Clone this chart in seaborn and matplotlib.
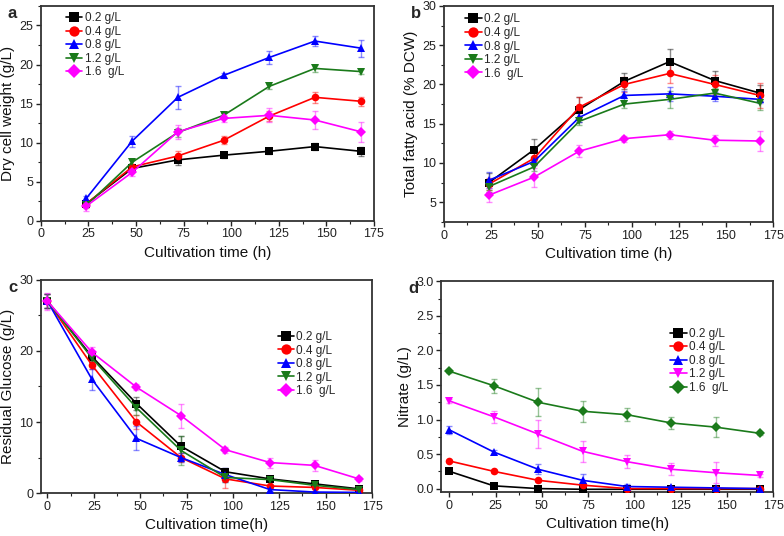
import numpy as np
import pandas as pd
import matplotlib
matplotlib.use("Agg")
import matplotlib.pyplot as plt
import seaborn as sns
from matplotlib.ticker import MultipleLocator, AutoMinorLocator

sns.set_theme(style="ticks")
plt.rcParams['font.family'] = ['Liberation Sans', 'DejaVu Sans']

labels = ["0.2 g/L", "0.4 g/L", "0.8 g/L", "1.2 g/L", "1.6  g/L"]

# Panel a: dry cell weight
time_a = [24, 48, 72, 96, 120, 144, 168]
dcw_02 = [2.2, 6.7, 7.8, 8.4, 8.9, 9.5, 8.9]
dcw_04 = [2.2, 6.9, 8.3, 10.3, 13.4, 15.8, 15.3]
dcw_08 = [2.9, 10.2, 15.8, 18.6, 20.9, 23.0, 22.1]
dcw_12 = [2.0, 7.5, 11.3, 13.5, 17.2, 19.5, 19.1]
dcw_16 = [1.9, 6.2, 11.4, 13.1, 13.5, 12.9, 11.4]
dcw_err_02 = [0.3, 0.3, 0.6, 0.3, 0.3, 0.5, 0.6]
dcw_err_04 = [0.3, 0.4, 0.6, 0.5, 0.6, 0.7, 0.6]
dcw_err_08 = [0.3, 0.7, 1.5, 0.3, 0.8, 0.6, 1.1]
dcw_err_12 = [0.3, 0.3, 0.6, 0.3, 0.3, 0.5, 0.3]
dcw_err_16 = [0.6, 0.4, 0.9, 0.5, 0.9, 1.1, 1.3]

# Panel b: total fatty acid
tfa_02 = [7.5, 11.7, 16.8, 20.4, 22.9, 20.5, 18.9]
tfa_04 = [7.3, 10.6, 17.1, 20.0, 21.4, 20.0, 18.6]
tfa_08 = [7.8, 10.2, 15.8, 18.6, 18.8, 18.5, 18.1]
tfa_12 = [7.0, 9.5, 15.3, 17.5, 18.1, 18.9, 17.6]
tfa_16 = [5.9, 8.2, 11.5, 13.1, 13.6, 12.9, 12.8]
tfa_err_02 = [1.2, 1.4, 1.6, 1.0, 1.6, 1.2, 1.0]
tfa_err_04 = [0.8, 0.8, 1.3, 1.0, 1.2, 1.2, 1.6]
tfa_err_08 = [1.0, 0.5, 0.6, 0.6, 0.9, 0.6, 0.5]
tfa_err_12 = [0.5, 0.5, 0.5, 0.5, 1.1, 0.6, 0.8]
tfa_err_16 = [0.9, 1.2, 0.8, 0.4, 0.5, 0.7, 1.3]

# Panel c: residual glucose
time_c = [0, 24, 48, 72, 96, 120, 144, 168]
glu_02 = [27.0, 19.2, 12.6, 6.6, 3.0, 2.0, 1.3, 0.6]
glu_04 = [27.0, 18.0, 10.0, 5.0, 2.0, 1.0, 0.8, 0.4]
glu_08 = [27.0, 16.0, 7.7, 5.0, 2.6, 0.5, 0.15, 0.1]
glu_12 = [27.0, 19.0, 12.0, 6.0, 2.2, 1.9, 1.1, 0.5]
glu_16 = [27.0, 19.8, 14.9, 10.9, 6.1, 4.3, 3.9, 2.0]
glu_err_02 = [1.0, 0.6, 0.9, 1.4, 0.5, 0.3, 0.3, 0.2]
glu_err_04 = [1.0, 0.5, 1.0, 0.6, 1.3, 0.2, 0.2, 0.1]
glu_err_08 = [1.0, 1.5, 1.7, 0.6, 1.0, 0.2, 0.1, 0.1]
glu_err_12 = [1.0, 0.6, 1.0, 2.0, 0.6, 0.3, 0.2, 0.1]
glu_err_16 = [1.2, 0.8, 0.4, 1.7, 0.4, 0.7, 0.8, 0.3]

# Panel d: nitrate
nit_02 = [0.25, 0.04, 0.0, -0.01, -0.01, -0.01, -0.01, -0.01]
nit_04 = [0.40, 0.25, 0.12, 0.05, 0.0, 0.0, 0.0, 0.0]
nit_08 = [0.85, 0.53, 0.28, 0.12, 0.03, 0.02, 0.01, 0.0]
nit_12 = [1.27, 1.04, 0.79, 0.54, 0.39, 0.28, 0.23, 0.19]
nit_16 = [1.70, 1.49, 1.25, 1.12, 1.07, 0.95, 0.89, 0.80]
nit_err_02 = [0.01, 0.01, 0.01, 0.01, 0.01, 0.01, 0.01, 0.01]
nit_err_04 = [0.02, 0.02, 0.02, 0.02, 0.01, 0.01, 0.01, 0.01]
nit_err_08 = [0.06, 0.03, 0.07, 0.09, 0.03, 0.02, 0.02, 0.01]
nit_err_12 = [0.03, 0.09, 0.20, 0.15, 0.09, 0.09, 0.15, 0.02]
nit_err_16 = [0.02, 0.10, 0.20, 0.15, 0.09, 0.09, 0.15, 0.02]

BLACK, RED, BLUE, GREEN, MAG = "#000000", "#ff0000", "#0000ff", "#1a7a1a", "#ff00ff"
style_abc = [(BLACK, "s"), (RED, "o"), (BLUE, "^"), (GREEN, "v"), (MAG, "D")]
style_d = [(BLACK, "s"), (RED, "o"), (BLUE, "^"), (MAG, "v"), (GREEN, "D")]

fig = plt.figure(figsize=(7.84, 5.36), dpi=100)
ax_a = fig.add_axes([0.052, 0.588, 0.425, 0.401])
ax_b = fig.add_axes([0.566, 0.586, 0.420, 0.403])
ax_c = fig.add_axes([0.052, 0.080, 0.4225, 0.398])
ax_d = fig.add_axes([0.563, 0.082, 0.423, 0.393])


def draw(ax, t, series, errs, styles, msize=5.5):
    for lab, y, e, (col, mk) in zip(labels, series, errs, styles):
        ax.errorbar(t, y, yerr=e, fmt="none", ecolor=col, alpha=0.45,
                    elinewidth=1.0, capsize=2.0, capthick=1.0, zorder=2)
        df = pd.DataFrame({"t": t, "y": y})
        sns.lineplot(data=df, x="t", y="y", ax=ax, color=col, marker=mk,
                     markersize=msize, markeredgewidth=0, linewidth=1.2,
                     label=lab, zorder=3)


draw(ax_a, time_a, [dcw_02, dcw_04, dcw_08, dcw_12, dcw_16],
     [dcw_err_02, dcw_err_04, dcw_err_08, dcw_err_12, dcw_err_16], style_abc)
draw(ax_b, time_a, [tfa_02, tfa_04, tfa_08, tfa_12, tfa_16],
     [tfa_err_02, tfa_err_04, tfa_err_08, tfa_err_12, tfa_err_16], style_abc)
draw(ax_c, time_c, [glu_02, glu_04, glu_08, glu_12, glu_16],
     [glu_err_02, glu_err_04, glu_err_08, glu_err_12, glu_err_16], style_abc)
draw(ax_d, time_c, [nit_02, nit_04, nit_08, nit_12, nit_16],
     [nit_err_02, nit_err_04, nit_err_08, nit_err_12, nit_err_16], style_d)

ax_a.set_xlim(0, 175); ax_a.set_ylim(0, 27.5)
ax_a.yaxis.set_major_locator(MultipleLocator(5))
ax_a.set_ylabel("Dry cell weight (g/L)")
ax_a.set_xlabel("Cultivation time (h)")

ax_b.set_xlim(0, 175); ax_b.set_ylim(2.5, 30)
ax_b.yaxis.set_major_locator(MultipleLocator(5))
ax_b.set_ylabel("Total fatty acid (% DCW)")
ax_b.set_xlabel("Cultivation time (h)")

ax_c.set_xlim(-3.6, 175); ax_c.set_ylim(0, 30)
ax_c.yaxis.set_major_locator(MultipleLocator(10))
ax_c.set_ylabel("Residual Glucose (g/L)")
ax_c.set_xlabel("Cultivation time(h)")

ax_d.set_xlim(-4.3, 175); ax_d.set_ylim(-0.05, 3.0)
ax_d.yaxis.set_major_locator(MultipleLocator(0.5))
ax_d.yaxis.set_major_formatter(matplotlib.ticker.FormatStrFormatter("%.1f"))
ax_d.set_ylabel("Nitrate (g/L)")
ax_d.set_xlabel("Cultivation time(h)")

legend_locs = {ax_a: (0.075, 0.97), ax_b: (0.065, 0.965), ax_c: (0.715, 0.76), ax_d: (0.69, 0.78)}

for ax, lbl in zip([ax_a, ax_b, ax_c, ax_d], ["a", "b", "c", "d"]):
    ax.xaxis.set_major_locator(MultipleLocator(25))
    ax.xaxis.set_minor_locator(AutoMinorLocator(2))
    ax.yaxis.set_minor_locator(AutoMinorLocator(2))
    ax.tick_params(which="major", direction="out", length=3.5, width=1.0,
                   labelsize=9, colors="#222222", pad=2)
    ax.tick_params(which="minor", direction="out", length=2, width=0.8, colors="#222222")
    for s in ax.spines.values():
        s.set_linewidth(1.3)
        s.set_color("#333333")
    ax.xaxis.label.set_size(11)
    ax.yaxis.label.set_size(11)
    ax.xaxis.label.set_color("#111111")
    ax.yaxis.label.set_color("#111111")
    ax.xaxis.labelpad = 4
    ax.yaxis.labelpad = 3
    leg = ax.legend(loc="upper left", bbox_to_anchor=legend_locs[ax], frameon=False,
                    fontsize=8.5, handlelength=1.4, handletextpad=0.2,
                    labelspacing=0.13, borderaxespad=0.0, borderpad=0.0,
                    markerscale=1.35)
    ax.text(-0.085, 1.0, lbl, transform=ax.transAxes, fontsize=12,
            fontweight="bold", ha="center", va="top")

fig.savefig("out.png", dpi=100)
